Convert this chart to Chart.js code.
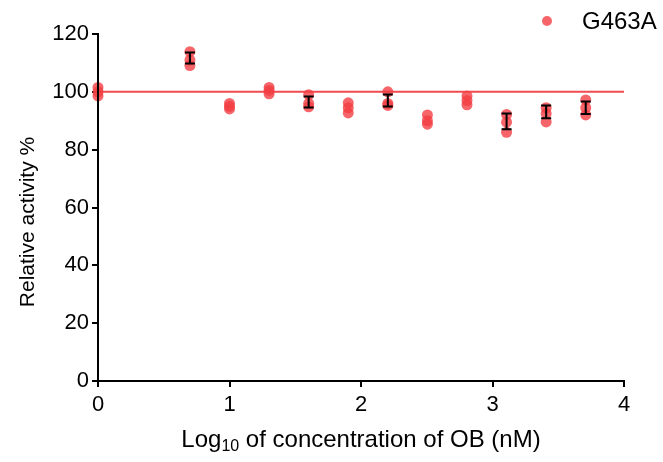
<!DOCTYPE html>
<html>
<head>
<meta charset="utf-8">
<script src="https://cdn.jsdelivr.net/npm/chart.js@4"></script>
<style>
  html, body { margin: 0; padding: 0; background: #fff; }
  #wrap { width: 663px; height: 462px; }
</style>
</head>
<body>
<div id="wrap"><canvas id="graph" width="663" height="462"></canvas></div>
<script>
// log10 of OB concentration (nM)
const logConc = [0, 0.699, 1, 1.301, 1.602, 1.903, 2.204, 2.505, 2.806, 3.107, 3.408, 3.709]
// replicate readings, relative activity %
const rep1 = [101.5, 113.9, 96.0, 101.5, 99.0, 96.2, 100.0, 92.0, 98.6, 92.2, 94.5, 97.2]
const rep2 = [100.0, 111.0, 95.0, 100.5, 96.0, 94.5, 96.0, 90.0, 97.0, 89.5, 92.5, 94.5]
const rep3 = [98.6, 109.1, 94.1, 99.3, 94.8, 92.7, 95.3, 88.8, 95.5, 86.0, 89.6, 92.0]
// visible error bars (null = hidden behind the symbols)
const barMean = [null, 111.7, null, null, 96.5, null, 97.0, null, null, 89.8, 93.1, 94.5]
const barErr = [null, 1.9, null, null, 1.9, null, 2.1, null, null, 2.7, 2.2, 2.2]
const refLevel = 100
const seriesName = 'G463A'
const yTitle = 'Relative activity %'
const xTicks = [0, 1, 2, 3, 4]
const yTicks = [0, 20, 40, 60, 80, 100, 120]

const font = "'Liberation Sans', Arial, sans-serif"
const dotColor = 'rgba(243,62,68,0.8)'

let points = []
logConc.forEach((x, i) => {
    points.push({x: x, y: rep1[i]})
    points.push({x: x, y: rep2[i]})
    points.push({x: x, y: rep3[i]})
})

const extras = {
    id: 'extras',
    afterDatasetsDraw(chart) {
        const ctx = chart.ctx
        const xs = chart.scales.x, ys = chart.scales.y
        ctx.save()
        // error bars
        ctx.strokeStyle = '#000'
        ctx.lineWidth = 2
        logConc.forEach((x, i) => {
            if (barErr[i] == null) return
            const px = xs.getPixelForValue(x)
            const top = ys.getPixelForValue(barMean[i] + barErr[i])
            const bot = ys.getPixelForValue(barMean[i] - barErr[i])
            ctx.beginPath()
            ctx.moveTo(px, top); ctx.lineTo(px, bot)
            ctx.moveTo(px - 5, top); ctx.lineTo(px + 5, top)
            ctx.moveTo(px - 5, bot); ctx.lineTo(px + 5, bot)
            ctx.stroke()
        })
        // y axis line back on top of the points
        const ax = xs.getPixelForValue(0)
        ctx.beginPath()
        ctx.moveTo(ax, ys.getPixelForValue(120) - 1)
        ctx.lineTo(ax, ys.getPixelForValue(0) + 1)
        ctx.stroke()
        // legend
        ctx.fillStyle = dotColor
        ctx.beginPath()
        ctx.arc(547, 21, 5, 0, Math.PI * 2)
        ctx.fill()
        ctx.fillStyle = '#000'
        ctx.font = '24px ' + font
        ctx.textBaseline = 'middle'
        ctx.textAlign = 'left'
        ctx.fillText(seriesName, 582, 22)
        // y title
        ctx.save()
        ctx.translate(28, 222)
        ctx.rotate(-Math.PI / 2)
        ctx.textAlign = 'center'
        ctx.font = '21px ' + font
        ctx.fillText(yTitle, 0, 0)
        ctx.restore()
        // x title with subscript
        const a = 'Log', sub = '10', b = ' of concentration of OB (nM)'
        ctx.font = '24px ' + font
        const wa = ctx.measureText(a).width, wb = ctx.measureText(b).width
        ctx.font = '16px ' + font
        const ws = ctx.measureText(sub).width
        const cx = (chart.chartArea.left + chart.chartArea.right) / 2
        let sx = cx - (wa + ws + wb) / 2
        const ty = 440
        ctx.font = '24px ' + font
        ctx.fillText(a, sx, ty)
        ctx.font = '16px ' + font
        ctx.fillText(sub, sx + wa, ty + 7)
        ctx.font = '24px ' + font
        ctx.fillText(b, sx + wa + ws, ty)
        ctx.restore()
    }
}

new Chart('graph', {
    type: 'scatter',
    data: {
        datasets: [{
            type: 'line',
            data: [{x: xTicks[0], y: refLevel}, {x: xTicks[xTicks.length - 1], y: refLevel}],
            borderColor: '#f04a4f',
            borderWidth: 2,
            pointRadius: 0,
            fill: false,
            order: 2
        }, {
            label: seriesName,
            data: points,
            backgroundColor: dotColor,
            borderWidth: 0,
            pointRadius: 5.5,
            clip: false,
            order: 1
        }]
    },
    options: {
        responsive: false,
        animation: false,
        events: [],
        layout: {padding: {left: 0, right: 39, top: 34, bottom: 0}},
        plugins: {legend: {display: false}, tooltip: {enabled: false}},
        scales: {
            x: {
                type: 'linear',
                min: 0, max: 4,
                afterBuildTicks: s => { s.ticks = xTicks.map(v => ({value: v})) },
                afterFit: s => { s.height = 81 },
                border: {color: '#000', width: 2},
                grid: {drawOnChartArea: false, color: '#000', tickLength: 6, lineWidth: 2},
                ticks: {color: '#000', font: {family: font, size: 22}, padding: 5}
            },
            y: {
                type: 'linear',
                min: 0, max: 120,
                afterBuildTicks: s => { s.ticks = yTicks.map(v => ({value: v})) },
                afterFit: s => { s.width = 98 },
                border: {color: '#000', width: 2},
                grid: {drawOnChartArea: false, color: '#000', tickLength: 6, lineWidth: 2},
                ticks: {color: '#000', font: {family: font, size: 22}, padding: 3}
            }
        }
    },
    plugins: [extras]
})
</script>
</body>
</html>
